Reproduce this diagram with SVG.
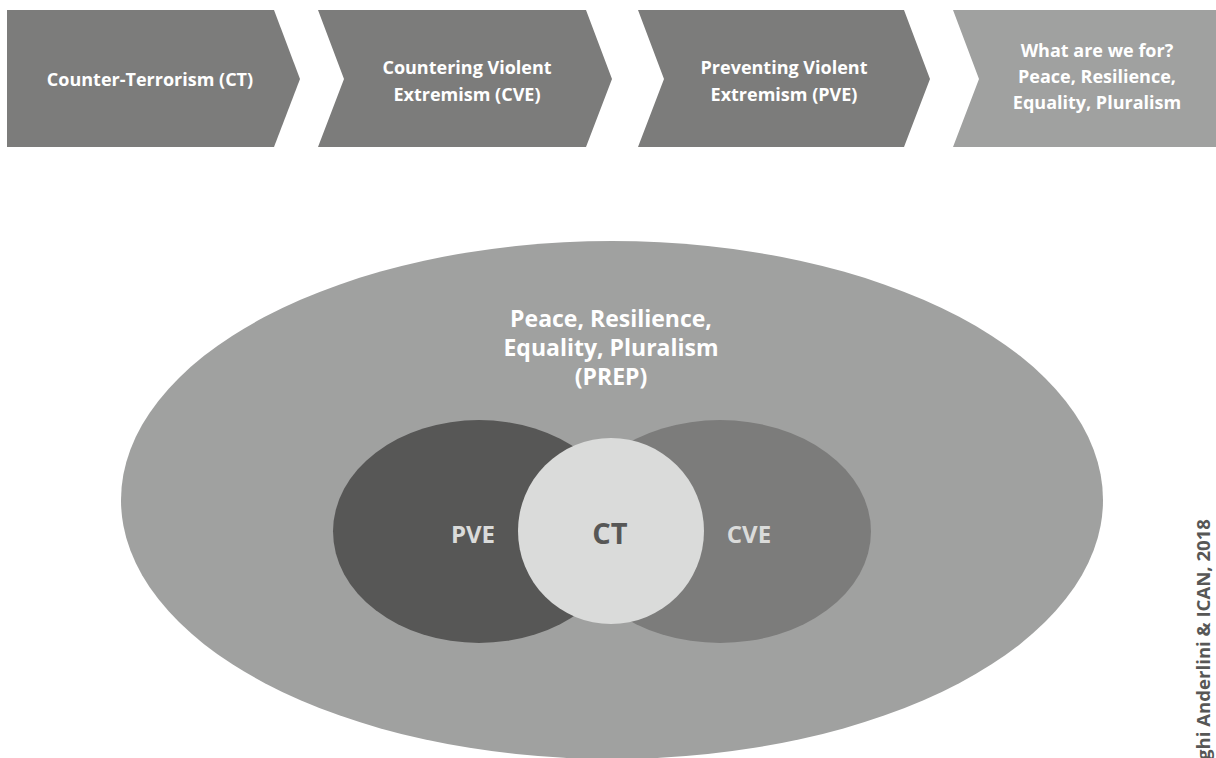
<svg xmlns="http://www.w3.org/2000/svg" width="1216" height="758" viewBox="0 0 1216 758">
  <style>
    .chev { fill: #7c7c7b; }
    .chev-light { fill: #a0a1a0; }
    .lbl { font-family: "Open Sans", "Liberation Sans", sans-serif; font-weight: 700; text-anchor: middle; }
    .chev-text { font-size: 18px; fill: #ffffff; }
    .center-text { font-size: 23px; fill: #ffffff; }
    .venn-text { font-size: 24px; fill: #dadbda; }
    .ct-text { font-size: 29px; fill: #575756; }
    .credit { font-family: "Open Sans", "Liberation Sans", sans-serif; font-weight: 700; font-size: 18.6px; fill: #575756; }
  </style>
  <rect width="1216" height="758" fill="#ffffff"/>

  <g id="step-ct">
    <path class="chev" d="M7,10 L274,10 L300,79 L274,147 L7,147 Z"/>
    <text class="lbl chev-text" x="150" y="86">Counter-Terrorism (CT)</text>
  </g>
  <g id="step-cve">
    <path class="chev" d="M318,10 L586,10 L612,79 L586,147 L318,147 L344,79 Z"/>
    <text class="lbl chev-text" x="467" y="74">Countering Violent</text>
    <text class="lbl chev-text" x="467" y="101">Extremism (CVE)</text>
  </g>
  <g id="step-pve">
    <path class="chev" d="M638,10 L904,10 L930,79 L904,147 L638,147 L664,79 Z"/>
    <text class="lbl chev-text" x="784" y="74">Preventing Violent</text>
    <text class="lbl chev-text" x="784" y="101">Extremism (PVE)</text>
  </g>
  <g id="step-prep">
    <path class="chev-light" d="M953,10 L1216,10 L1216,147 L953,147 L979,79 Z"/>
    <text class="lbl chev-text" x="1097" y="57">What are we for?</text>
    <text class="lbl chev-text" x="1097" y="83">Peace, Resilience,</text>
    <text class="lbl chev-text" x="1097" y="109">Equality, Pluralism</text>
  </g>

  <g id="prep">
    <ellipse cx="612" cy="500" rx="491" ry="259" fill="#a0a1a0"/>
    <text class="lbl center-text" x="611" y="327">Peace, Resilience,</text>
    <text class="lbl center-text" x="611" y="356">Equality, Pluralism</text>
    <text class="lbl center-text" x="611" y="385">(PREP)</text>
  </g>
  <g id="pve">
    <ellipse cx="479" cy="531.5" rx="146" ry="111.5" fill="#575756"/>
  </g>
  <g id="cve">
    <ellipse cx="720" cy="531.5" rx="151" ry="111.5" fill="#7c7c7b"/>
  </g>
  <g id="ct">
    <ellipse cx="611" cy="531" rx="93" ry="93" fill="#dadbda"/>
    <text class="lbl ct-text" x="610" y="544">CT</text>
  </g>
  <g id="venn-labels">
    <text class="lbl venn-text" x="473" y="543">PVE</text>
    <text class="lbl venn-text" x="749" y="543">CVE</text>
  </g>

  <g id="connectors"/>

  <g id="credit">
    <text class="credit" transform="translate(1210,519) rotate(-90)" text-anchor="end">ghi Anderlini &amp; ICAN, 2018</text>
  </g>
</svg>
